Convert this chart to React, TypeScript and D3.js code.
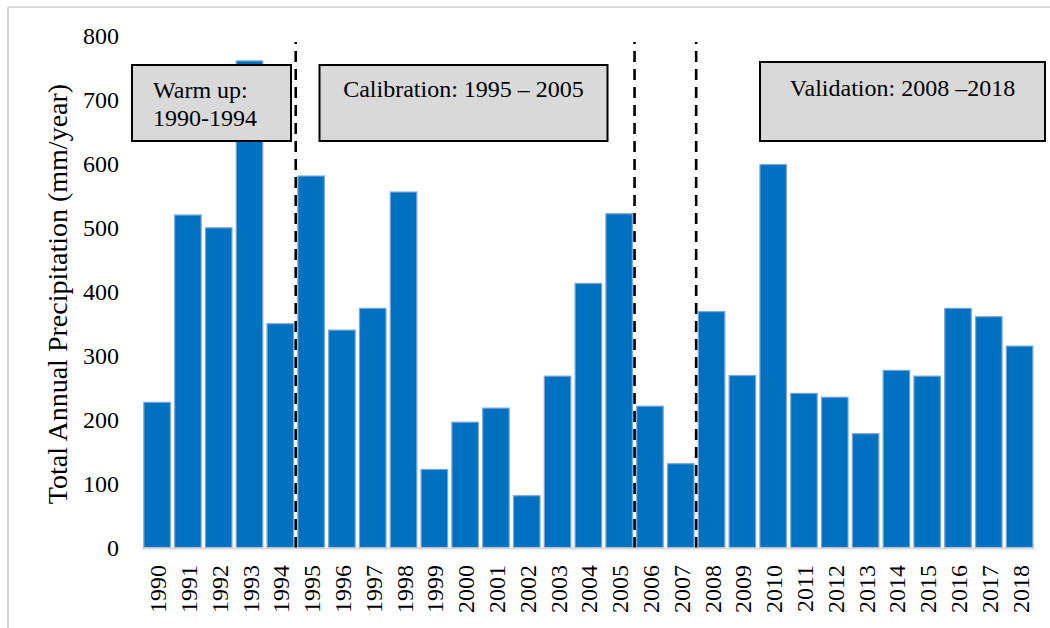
import React from "react";
import * as d3 from "d3";

const years: string[] = [
  "1990","1991","1992","1993","1994","1995","1996","1997","1998","1999",
  "2000","2001","2002","2003","2004","2005","2006","2007","2008","2009",
  "2010","2011","2012","2013","2014","2015","2016","2017","2018",
];
const precipitation: number[] = [
  227, 520, 500, 761, 350, 581, 340, 374, 556, 122,
  196, 218, 81, 268, 413, 522, 221, 131, 369, 269,
  599, 241, 235, 178, 277, 268, 374, 361, 315,
];
const yTicks: number[] = [0, 100, 200, 300, 400, 500, 600, 700, 800];
const periodStarts: string[] = ["1995", "2006", "2008"];
const yTitle = "Total Annual Precipitation (mm/year)";

const W = 1050;
const H = 628;
const FONT = "'Liberation Serif', 'Times New Roman', serif";

export default function App() {
  const x = d3
    .scaleBand<string>()
    .domain(years)
    .range([141.7, 1035])
    .paddingInner(0.14)
    .paddingOuter(0.07);
  const y = d3.scaleLinear().domain([0, 800]).range([547.5, 36]);
  const gap = (x.step() - x.bandwidth()) / 2;

  return (
    <svg
      width={W}
      height={H}
      style={{ position: "absolute", left: 0, top: 0, background: "#fff" }}
      fontFamily={FONT}
    >
      <rect x={0} y={0} width={W} height={H} fill="#fff" />
      {/* outer frame */}
      <line x1={8} y1={7} x2={W} y2={7} stroke="#d9d9d9" strokeWidth={2} />
      <line x1={8} y1={7} x2={8} y2={H} stroke="#d9d9d9" strokeWidth={2} />

      {/* bars */}
      {years.map((yr, i) => (
        <rect
          key={yr}
          x={x(yr)!}
          y={y(precipitation[i])}
          width={x.bandwidth()}
          height={y(0) - y(precipitation[i])}
          fill="#0070C0"
          stroke="#7aa5d8"
          strokeWidth={1.2}
        />
      ))}

      {/* x axis line */}
      <line
        x1={x.range()[0]}
        x2={x.range()[1]}
        y1={y(0) + 1}
        y2={y(0) + 1}
        stroke="#d9d9d9"
        strokeWidth={2}
      />

      {/* y tick labels */}
      {yTicks.map((t) => (
        <text
          key={t}
          x={119}
          y={y(t) + 8}
          textAnchor="end"
          fontSize={24}
          fill="#000"
        >
          {t}
        </text>
      ))}

      {/* x tick labels */}
      {years.map((yr) => {
        const cx = x(yr)! + x.bandwidth() / 2 + 9;
        return (
          <text
            key={yr}
            transform={`translate(${cx},565) rotate(-90)`}
            textAnchor="end"
            fontSize={24}
            fill="#000"
          >
            {yr}
          </text>
        );
      })}

      {/* y title */}
      <text
        transform={`translate(67,294) rotate(-90)`}
        textAnchor="middle"
        fontSize={28}
        fill="#000"
      >
        {yTitle}
      </text>

      {/* dashed period separators */}
      {periodStarts.map((yr) => {
        const xx = x(yr)! - gap;
        return (
          <line
            key={yr}
            x1={xx}
            x2={xx}
            y1={42}
            y2={y(0)}
            stroke="#000"
            strokeWidth={2.6}
            strokeDasharray="2,7,11,7,11,7,11,7,11,7,11,7,11,7,11,7,11,7,11,7,11,7,11,7,11,7,11,7,11,7,11,7,11,7,11,7,11,7,11,7,11,7,11,7,11,7,11,7,11,7,11,7,11,7,11,7,11,7,11,7"
          />
        );
      })}

      {/* annotation boxes */}
      <rect x={132} y={65} width={159} height={76} fill="#d9d9d9" stroke="#000" strokeWidth={2} />
      <text x={153} y={98} fontSize={24} fill="#000">Warm up:</text>
      <text x={153} y={126} fontSize={24} fill="#000">1990-1994</text>

      <rect x={319.5} y={65} width={288} height={76} fill="#d9d9d9" stroke="#000" strokeWidth={2} />
      <text x={463.5} y={97} fontSize={24} textAnchor="middle" fill="#000">
        Calibration: 1995 – 2005
      </text>

      <rect x={760} y={62} width={285} height={79} fill="#d9d9d9" stroke="#000" strokeWidth={2} />
      <text x={902.5} y={96} fontSize={24} textAnchor="middle" fill="#000">
        Validation: 2008 –2018
      </text>
    </svg>
  );
}
